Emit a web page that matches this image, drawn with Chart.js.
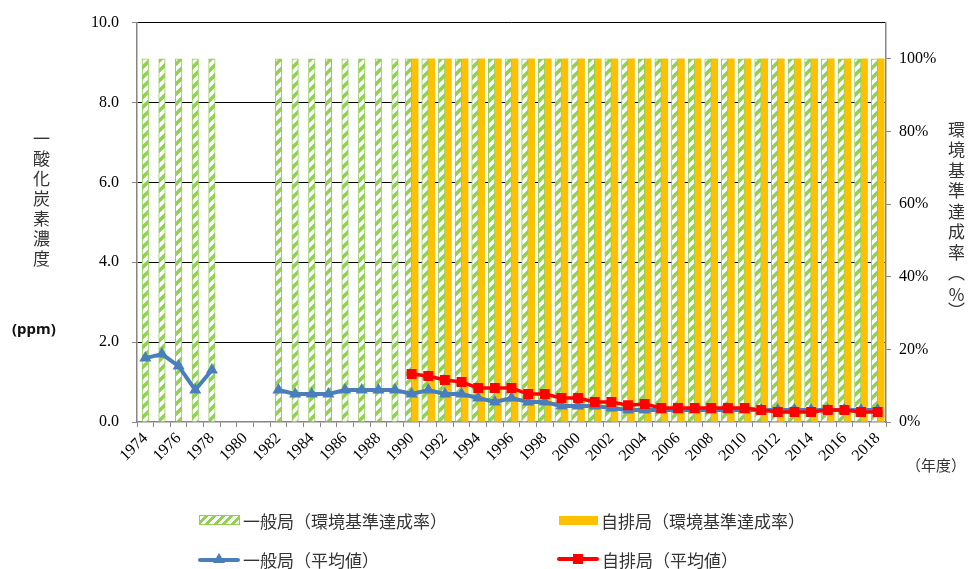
<!DOCTYPE html>
<html>
<head>
<meta charset="utf-8">
<script src="https://cdn.jsdelivr.net/npm/chart.js@4/dist/chart.umd.min.js"></script>
<style>
  body { margin: 0; background: #fff; }
  #wrap { position: relative; width: 972px; height: 569px; }
  .vt { position: absolute; writing-mode: vertical-rl; text-orientation: mixed;
        font: 17px "Noto Sans CJK JP"; letter-spacing: 3px; color: #333; }
  .lab { position: absolute; color: #333; font: 17px "Noto Sans CJK JP"; white-space: nowrap; }
  .leg { position: absolute; display: flex; align-items: center; height: 24px;
         font: 17px "Noto Sans CJK JP"; color: #333; white-space: nowrap; }
  .leg svg, .leg .box { margin-right: 3px; }
</style>
</head>
<body>
<div id="wrap">
  <canvas id="chart" width="972" height="569"></canvas>
  <div class="vt" style="left:29px; top:130px;">一酸化炭素濃度</div>
  <div class="lab" style="left:12px; top:318px; font:bold 15px 'Noto Sans'; color:#111;">(ppm)</div>
  <div class="vt" style="left:944px; top:121px; letter-spacing:3.5px;">環境基準達成率（<span style="text-combine-upright:all;">%</span>）</div>
  <div class="lab" style="left:906px; top:454px; font-size:15px;">（年度）</div>

  <div class="leg" style="left:199px; top:508px;">
    <span class="box" style="display:inline-block; width:39px; height:8px; border:1px solid #92D050;
      background: repeating-linear-gradient(135deg, #fff 0 3px, #92D050 3px 6px);"></span>一般局（環境基準達成率）</div>
  <div class="leg" style="left:559px; top:508px;">
    <span class="box" style="display:inline-block; width:39px; height:9px; background:#FFC000;"></span>自排局（環境基準達成率）</div>
  <div class="leg" style="left:198px; top:547px;">
    <svg width="42" height="14"><line x1="2" y1="8" x2="40" y2="8" stroke="#4A7EBB" stroke-width="4" stroke-linecap="round"/>
      <polygon points="21,1 27,11 15,11" fill="#4A7EBB"/></svg>一般局（平均値）</div>
  <div class="leg" style="left:557px; top:547px;">
    <svg width="42" height="14"><line x1="2" y1="7" x2="40" y2="7" stroke="#FF0000" stroke-width="4" stroke-linecap="round"/>
      <rect x="16" y="2" width="10" height="10" fill="#FF0000"/></svg>自排局（平均値）</div>
</div>
<script>
const years = ['1974','1975','1976','1977','1978','1979','1980','1981','1982','1983',
  '1984','1985','1986','1987','1988','1989','1990','1991','1992','1993',
  '1994','1995','1996','1997','1998','1999','2000','2001','2002','2003',
  '2004','2005','2006','2007','2008','2009','2010','2011','2012','2013',
  '2014','2015','2016','2017','2018'];

// 環境基準達成率 (%)
const generalRate = [100, 100, 100, 100, 100, null, null, null, 100, 100,
  100, 100, 100, 100, 100, 100, 100, 100, 100, 100,
  100, 100, 100, 100, 100, 100, 100, 100, 100, 100,
  100, 100, 100, 100, 100, 100, 100, 100, 100, 100,
  100, 100, 100, 100, 100];
const roadsideRate = [null, null, null, null, null, null, null, null, null, null,
  null, null, null, null, null, null, 100, 100, 100, 100,
  100, 100, 100, 100, 100, 100, 100, 100, 100, 100,
  100, 100, 100, 100, 100, 100, 100, 100, 100, 100,
  100, 100, 100, 100, 100];

// 平均値 (ppm)
const generalAvg = [1.6, 1.7, 1.4, 0.8, 1.3, null, null, null, 0.8, 0.7,
  0.7, 0.7, 0.8, 0.8, 0.8, 0.8, 0.7, 0.8, 0.7, 0.7,
  0.6, 0.5, 0.6, 0.5, 0.5, 0.4, 0.4, 0.4, 0.35, 0.3,
  0.3, 0.3, 0.3, 0.3, 0.3, 0.3, 0.3, 0.3, 0.3, 0.3,
  0.3, 0.3, 0.3, 0.3, 0.3];
const roadsideAvg = [null, null, null, null, null, null, null, null, null, null,
  null, null, null, null, null, null, 1.2, 1.15, 1.05, 1.0,
  0.85, 0.85, 0.85, 0.7, 0.7, 0.6, 0.6, 0.5, 0.5, 0.42,
  0.45, 0.35, 0.35, 0.35, 0.35, 0.35, 0.35, 0.3, 0.25, 0.25,
  0.25, 0.3, 0.3, 0.25, 0.25];

const leftTicks = [0, 2, 4, 6, 8, 10];
const rightTicks = [0, 20, 40, 60, 80, 100];

function makeHatch() {
  const c = document.createElement('canvas');
  c.width = 10; c.height = 10;
  const g = c.getContext('2d');
  g.fillStyle = '#fff';
  g.fillRect(0, 0, 10, 10);
  g.strokeStyle = '#92D050';
  g.lineWidth = 3.5;
  g.beginPath();
  g.moveTo(-3, 13); g.lineTo(13, -3);
  g.moveTo(-3, 3); g.lineTo(3, -3);
  g.moveTo(7, 13); g.lineTo(13, 7);
  g.stroke();
  return g.createPattern(c, 'repeat');
}

const tickFont = { family: 'Liberation Serif', size: 16 };
const ctx = document.getElementById('chart').getContext('2d');
const myChart = new Chart(ctx, {
  data: {
    labels: years,
    datasets: [
      {
        type: 'bar',
        label: '一般局（環境基準達成率）',
        data: generalRate,
        yAxisID: 'y1',
        backgroundColor: makeHatch(),
        borderColor: '#92D050',
        borderWidth: 1,
        barThickness: 6.5,
        skipNull: true,
        order: 3
      },
      {
        type: 'bar',
        label: '自排局（環境基準達成率）',
        data: roadsideRate,
        yAxisID: 'y1',
        backgroundColor: '#FFC000',
        borderWidth: 0,
        barThickness: 6.5,
        skipNull: true,
        order: 3
      },
      {
        type: 'line',
        label: '一般局（平均値）',
        data: generalAvg,
        yAxisID: 'y',
        borderColor: '#4A7EBB',
        backgroundColor: '#4A7EBB',
        borderWidth: 4,
        pointStyle: 'triangle',
        pointRadius: 7,
        pointBorderWidth: 0,
        order: 2
      },
      {
        type: 'line',
        label: '自排局（平均値）',
        data: roadsideAvg,
        yAxisID: 'y',
        borderColor: '#FF0000',
        backgroundColor: '#FF0000',
        borderWidth: 3.5,
        pointStyle: 'rect',
        pointRadius: 7,
        pointBorderWidth: 0,
        order: 1
      }
    ]
  },
  options: {
    responsive: false,
    animation: false,
    layout: { padding: { top: 22, left: 0, right: 0, bottom: 0 } },
    plugins: { legend: { display: false }, tooltip: { enabled: false } },
    scales: {
      x: {
        offset: true,
        grid: { drawOnChartArea: false, drawTicks: true, tickLength: 5, color: '#868686', offset: true },
        border: { color: '#868686', width: 1.5 },
        ticks: {
          autoSkip: false, maxRotation: 45, minRotation: 45, color: '#000', font: tickFont, padding: 2,
          callback: (v, i) => (i % 2 === 0 ? years[i] : '')
        },
        afterFit: (s) => { s.height = 147; }
      },
      y: {
        position: 'left',
        min: 0,
        max: 10,
        afterBuildTicks: (s) => { s.ticks = leftTicks.map(v => ({ value: v })); },
        grid: {
          color: (c) => (c.tick && c.tick.value === 0 ? 'rgba(0,0,0,0)' : '#000'),
          tickColor: '#868686', tickLength: 5
        },
        border: { color: '#868686', width: 1.5 },
        ticks: { color: '#000', font: tickFont, padding: 13, callback: (v) => v.toFixed(1) },
        afterFit: (s) => { s.width = 137; }
      },
      y1: {
        position: 'right',
        min: 0,
        max: 110,
        afterBuildTicks: (s) => { s.ticks = rightTicks.map(v => ({ value: v })); },
        grid: { drawOnChartArea: false, tickColor: '#868686', tickLength: 5 },
        border: { color: '#868686', width: 1.5 },
        ticks: { color: '#000', font: tickFont, padding: 8, callback: (v) => v + '%' },
        afterFit: (s) => { s.width = 86; }
      }
    }
  }
});
</script>
</body>
</html>
